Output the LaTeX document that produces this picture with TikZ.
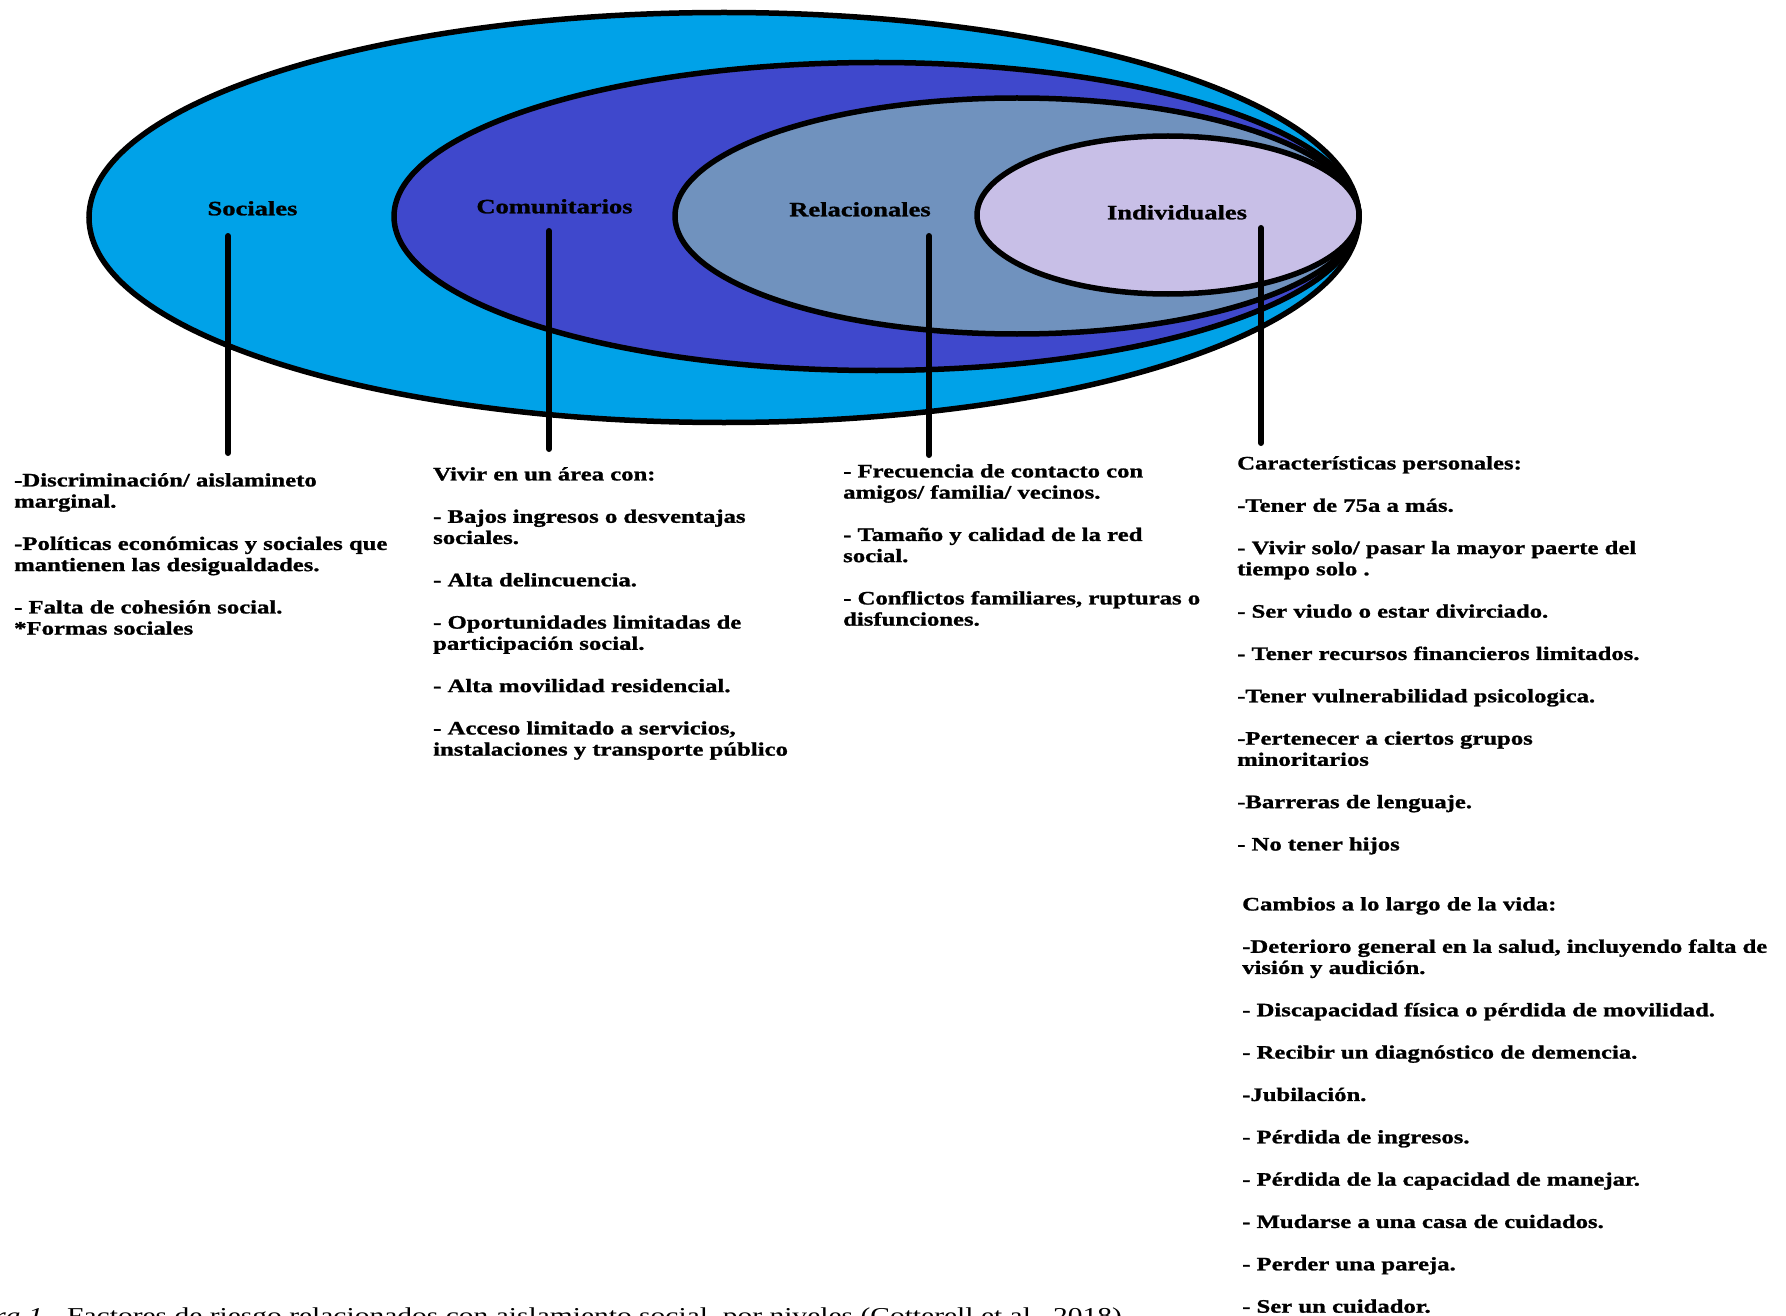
\documentclass[tikz,border=0pt]{standalone}
\usepackage{fontspec}
\setmainfont{Liberation Serif}[FakeStretch=1.3,BoldFeatures={FakeBold=1.2}]
\definecolor{cSoc}{RGB}{0,162,232}
\definecolor{cCom}{RGB}{63,72,204}
\definecolor{cRel}{RGB}{112,146,190}
\definecolor{cInd}{RGB}{200,191,231}
\newcommand{\bl}{\\[21.17pt]}
\begin{document}
\begin{tikzpicture}[x=1pt,y=-1pt,
  ring/.style={draw=black,line width=5.5pt},
  lvl/.style={font=\bfseries\fontsize{20.4}{22}\selectfont,inner sep=0pt,anchor=base},
  col/.style={font=\bfseries\fontsize{19}{21.17}\selectfont,align=left,inner sep=0pt,anchor=north west},
  capt/.style={font=\fontsize{22.7}{24}\selectfont,inner sep=0pt,anchor=base west},
  stem/.style={line width=6pt,line cap=round}]
\useasboundingbox (0,0) rectangle (1786,1316);
\clip (0,0) rectangle (1786,1316);
\fill[white] (0,0) rectangle (1786,1316);
% rings
\draw[ring,fill=cSoc] (724,217.5) ellipse [x radius=635,y radius=205];
\draw[ring,fill=cCom] (876.5,216.5) ellipse [x radius=482.5,y radius=154];
\draw[ring,fill=cRel] (1017,216) ellipse [x radius=342,y radius=118];
\draw[ring,fill=cInd] (1168,215) ellipse [x radius=191,y radius=79];
% level labels
\node[lvl] (lSoc) at (252.5,215.3) {Sociales};
\node[lvl] (lCom) at (554.5,213.3) {Comunitarios};
\node[lvl] (lRel) at (860,216.3) {Relacionales};
\node[lvl] (lInd) at (1177,219.3) {Individuales};
% text columns
\node[col] (tSoc) at (14,471.4) {\strut-Discriminación/ aislamineto\\marginal.\bl
-Políticas económicas y sociales que\\mantienen las desigualdades.\bl
- Falta de cohesión social.\\*Formas sociales};
\node[col] (tCom) at (433,465.4) {\strut Vivir en un área con:\bl
- Bajos ingresos o desventajas\\sociales.\bl
- Alta delincuencia.\bl
- Oportunidades limitadas de\\participación social.\bl
- Alta movilidad residencial.\bl
- Acceso limitado a servicios,\\instalaciones y transporte público};
\node[col] (tRel) at (843,462.4) {\strut- Frecuencia de contacto con\\amigos/ familia/ vecinos.\bl
- Tamaño y calidad de la red\\social.\bl
- Conflictos familiares, rupturas o\\disfunciones.};
\node[col] (tInd) at (1237,454.4) {\strut Características personales:\bl
-Tener de 75a a más.\bl
- Vivir solo/ pasar la mayor paerte del\\tiempo solo .\bl
- Ser viudo o estar divirciado.\bl
- Tener recursos financieros limitados.\bl
-Tener vulnerabilidad psicologica.\bl
-Pertenecer a ciertos grupos\\minoritarios\bl
-Barreras de lenguaje.\bl
- No tener hijos};
\node[col] (tCam) at (1242,895.4) {\strut Cambios a lo largo de la vida:\bl
-Deterioro general en la salud, incluyendo falta de\\visión y audición.\bl
- Discapacidad física o pérdida de movilidad.\bl
- Recibir un diagnóstico de demencia.\bl
-Jubilación.\bl
- Pérdida de ingresos.\bl
- Pérdida de la capacidad de manejar.\bl
- Mudarse a una casa de cuidados.\bl
- Perder una pareja.\bl
- Ser un cuidador.};
% connector end points
\coordinate (sSocT) at (228,236);
\coordinate (sSocB) at (228,453);
\coordinate (sComT) at (549,231);
\coordinate (sComB) at (549,449);
\coordinate (sRelT) at (929,236);
\coordinate (sRelB) at (929,455);
\coordinate (sIndT) at (1261,228);
\coordinate (sIndB) at (1261,443);
\draw[stem] (sSocT) -- (sSocB);
\draw[stem] (sComT) -- (sComB);
\draw[stem] (sRelT) -- (sRelB);
\draw[stem] (sIndT) -- (sIndB);
% caption
\node[capt] (cap) at (67,1323) {\llap{\textit{Figura 1.}\hspace{17pt}}Factores de riesgo relacionados con aislamiento social, por niveles (Cotterell et al., 2018).};
\end{tikzpicture}
\end{document}
